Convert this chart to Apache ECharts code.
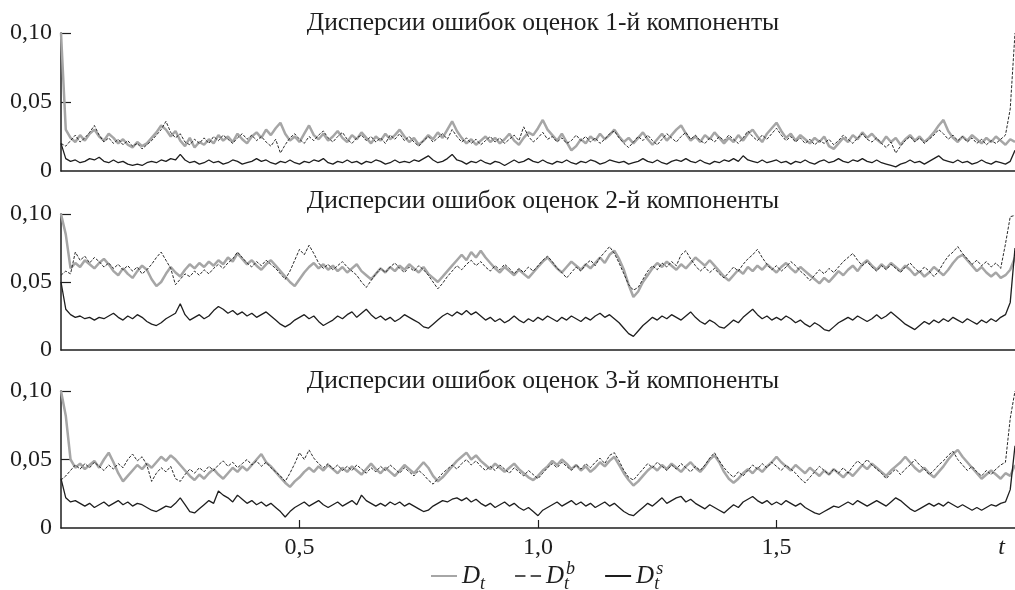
<!DOCTYPE html>
<html>
<head>
<meta charset="utf-8">
<script src="https://cdn.jsdelivr.net/npm/echarts@6/dist/echarts.min.js"></script>
<style>
  html, body { margin: 0; padding: 0; background: #fff; }
  #chart { width: 1015px; height: 590px; }
</style>
</head>
<body>
<div id="chart"></div>
<script>
// Sampling grid: t from 0 to 2 with step 0.01 (201 samples per series)
const SAMPLES = 201;
const tGrid = Array.from({ length: SAMPLES }, (_, i) => i / 100);

const panelTitles = [
  'Дисперсии ошибок оценок 1-й компоненты',
  'Дисперсии ошибок оценок 2-й компоненты',
  'Дисперсии ошибок оценок 3-й компоненты'
];
const seriesNames = ['D_t', 'D_t^b', 'D_t^s'];
const yTicks = [0, 0.05, 0.10];
const xTicks = [0.5, 1.0, 1.5];

// ---- Component 1 ----
const comp1Dt = [
0.100,0.030,0.024,0.021,0.026,0.022,0.027,0.030,0.025,0.022,
0.027,0.024,0.020,0.023,0.019,0.017,0.021,0.018,0.020,0.024,
0.028,0.033,0.030,0.025,0.029,0.022,0.018,0.024,0.017,0.021,
0.019,0.023,0.020,0.026,0.022,0.025,0.021,0.027,0.023,0.020,
0.025,0.028,0.024,0.030,0.026,0.031,0.035,0.027,0.022,0.025,
0.021,0.027,0.033,0.026,0.023,0.027,0.022,0.025,0.029,0.024,
0.021,0.026,0.023,0.028,0.024,0.020,0.025,0.022,0.027,0.023,
0.026,0.030,0.025,0.021,0.024,0.019,0.022,0.026,0.023,0.028,
0.024,0.030,0.036,0.029,0.024,0.020,0.023,0.019,0.022,0.025,
0.021,0.024,0.020,0.023,0.027,0.022,0.019,0.024,0.028,0.026,
0.031,0.037,0.030,0.026,0.022,0.027,0.021,0.015,0.018,0.023,
0.020,0.025,0.022,0.027,0.023,0.026,0.030,0.025,0.021,0.024,
0.020,0.024,0.028,0.023,0.019,0.023,0.027,0.022,0.026,0.030,
0.033,0.027,0.022,0.025,0.021,0.026,0.023,0.028,0.024,0.020,
0.024,0.021,0.026,0.022,0.027,0.030,0.025,0.021,0.027,0.031,
0.035,0.029,0.024,0.027,0.022,0.026,0.023,0.020,0.024,0.021,
0.025,0.018,0.016,0.020,0.024,0.021,0.026,0.023,0.028,0.024,
0.027,0.023,0.020,0.025,0.021,0.024,0.019,0.023,0.026,0.022,
0.025,0.021,0.024,0.028,0.033,0.037,0.029,0.024,0.021,0.025,
0.022,0.026,0.023,0.020,0.024,0.021,0.025,0.022,0.019,0.023,
0.021
];
const comp1Db = [
0.020,0.018,0.022,0.026,0.021,0.024,0.028,0.033,0.026,0.021,
0.024,0.020,0.023,0.019,0.022,0.018,0.020,0.016,0.019,0.022,
0.026,0.030,0.036,0.028,0.024,0.027,0.021,0.019,0.023,0.020,
0.024,0.020,0.025,0.022,0.026,0.023,0.020,0.024,0.027,0.023,
0.026,0.022,0.025,0.021,0.018,0.023,0.013,0.019,0.024,0.027,
0.023,0.020,0.025,0.022,0.026,0.029,0.024,0.021,0.025,0.028,
0.023,0.020,0.024,0.026,0.022,0.025,0.021,0.024,0.020,0.026,
0.023,0.027,0.022,0.025,0.021,0.018,0.022,0.025,0.021,0.024,
0.027,0.023,0.030,0.025,0.021,0.024,0.020,0.023,0.019,0.022,
0.025,0.021,0.024,0.020,0.023,0.026,0.022,0.032,0.025,0.021,
0.024,0.028,0.023,0.025,0.021,0.024,0.020,0.022,0.026,0.022,
0.025,0.021,0.024,0.020,0.023,0.027,0.029,0.024,0.020,0.017,
0.021,0.025,0.022,0.026,0.022,0.019,0.023,0.027,0.024,0.021,
0.025,0.028,0.023,0.026,0.022,0.020,0.024,0.021,0.025,0.022,
0.026,0.023,0.020,0.024,0.029,0.025,0.022,0.026,0.023,0.027,
0.031,0.026,0.022,0.025,0.021,0.024,0.020,0.023,0.019,0.022,
0.020,0.023,0.019,0.022,0.026,0.023,0.020,0.024,0.027,0.023,
0.021,0.024,0.020,0.017,0.021,0.013,0.018,0.022,0.025,0.021,
0.024,0.020,0.023,0.026,0.030,0.027,0.023,0.026,0.022,0.025,
0.021,0.024,0.020,0.023,0.019,0.022,0.020,0.023,0.026,0.045,
0.100
];
const comp1Ds = [
0.020,0.009,0.007,0.008,0.006,0.007,0.009,0.008,0.010,0.007,
0.006,0.008,0.006,0.007,0.005,0.004,0.005,0.004,0.006,0.007,
0.006,0.008,0.007,0.009,0.008,0.012,0.008,0.006,0.007,0.005,
0.006,0.008,0.006,0.007,0.005,0.006,0.008,0.007,0.005,0.006,
0.007,0.009,0.007,0.008,0.006,0.005,0.007,0.006,0.008,0.006,
0.005,0.007,0.006,0.008,0.007,0.009,0.006,0.005,0.007,0.006,
0.008,0.006,0.007,0.005,0.007,0.006,0.008,0.007,0.005,0.006,
0.008,0.006,0.007,0.006,0.008,0.007,0.009,0.011,0.008,0.006,
0.007,0.009,0.012,0.008,0.007,0.005,0.007,0.006,0.008,0.006,
0.005,0.007,0.006,0.004,0.006,0.008,0.006,0.007,0.009,0.007,
0.006,0.008,0.006,0.005,0.007,0.006,0.008,0.006,0.005,0.007,
0.006,0.008,0.007,0.005,0.006,0.008,0.007,0.006,0.007,0.005,
0.006,0.007,0.009,0.007,0.006,0.008,0.006,0.005,0.007,0.008,
0.007,0.009,0.007,0.006,0.008,0.006,0.005,0.007,0.006,0.008,
0.007,0.009,0.007,0.011,0.008,0.007,0.006,0.008,0.006,0.007,
0.008,0.006,0.007,0.005,0.007,0.006,0.008,0.006,0.005,0.007,
0.008,0.006,0.007,0.009,0.007,0.006,0.008,0.007,0.009,0.007,
0.006,0.008,0.006,0.005,0.004,0.003,0.005,0.006,0.008,0.006,
0.007,0.005,0.007,0.009,0.011,0.008,0.007,0.006,0.008,0.006,
0.007,0.005,0.006,0.008,0.006,0.005,0.007,0.006,0.005,0.007,
0.015
];

// ---- Component 2 ----
const comp2Dt = [
0.100,0.085,0.060,0.064,0.061,0.066,0.063,0.060,0.064,0.067,
0.063,0.058,0.055,0.060,0.056,0.053,0.058,0.062,0.059,0.052,
0.047,0.050,0.056,0.061,0.057,0.054,0.059,0.063,0.060,0.064,
0.061,0.065,0.062,0.066,0.063,0.068,0.065,0.071,0.067,0.063,
0.066,0.062,0.059,0.063,0.066,0.062,0.058,0.054,0.050,0.047,
0.052,0.057,0.061,0.064,0.060,0.063,0.059,0.062,0.058,0.061,
0.057,0.060,0.063,0.058,0.055,0.052,0.056,0.060,0.057,0.061,
0.058,0.062,0.059,0.063,0.060,0.057,0.061,0.056,0.053,0.050,
0.054,0.058,0.062,0.066,0.070,0.066,0.072,0.068,0.073,0.068,
0.064,0.060,0.057,0.061,0.058,0.055,0.059,0.056,0.053,0.057,
0.061,0.065,0.068,0.064,0.060,0.057,0.061,0.065,0.062,0.059,
0.063,0.060,0.064,0.068,0.064,0.070,0.073,0.067,0.059,0.048,
0.039,0.043,0.050,0.055,0.060,0.064,0.061,0.065,0.062,0.059,
0.063,0.060,0.064,0.068,0.065,0.062,0.066,0.062,0.058,0.054,
0.051,0.055,0.059,0.056,0.061,0.058,0.062,0.059,0.063,0.060,
0.057,0.061,0.064,0.060,0.057,0.061,0.058,0.055,0.052,0.049,
0.053,0.050,0.054,0.058,0.055,0.059,0.062,0.058,0.063,0.066,
0.062,0.059,0.063,0.060,0.064,0.061,0.058,0.062,0.059,0.055,
0.058,0.054,0.057,0.061,0.058,0.055,0.059,0.064,0.068,0.070,
0.066,0.062,0.058,0.061,0.057,0.054,0.057,0.053,0.055,0.059,
0.068
];
const comp2Db = [
0.055,0.058,0.056,0.072,0.066,0.069,0.064,0.068,0.065,0.061,
0.064,0.060,0.063,0.059,0.062,0.058,0.061,0.056,0.059,0.063,
0.068,0.072,0.066,0.060,0.048,0.052,0.056,0.054,0.058,0.055,
0.059,0.056,0.060,0.063,0.060,0.064,0.067,0.072,0.068,0.064,
0.061,0.065,0.062,0.066,0.063,0.060,0.056,0.052,0.058,0.066,
0.074,0.070,0.077,0.071,0.064,0.060,0.063,0.059,0.062,0.065,
0.061,0.058,0.055,0.050,0.046,0.051,0.056,0.060,0.057,0.061,
0.064,0.060,0.057,0.061,0.058,0.062,0.059,0.055,0.050,0.045,
0.049,0.054,0.058,0.062,0.059,0.063,0.066,0.062,0.065,0.061,
0.058,0.062,0.059,0.063,0.060,0.056,0.060,0.057,0.061,0.058,
0.062,0.066,0.069,0.065,0.060,0.057,0.053,0.057,0.061,0.058,
0.063,0.066,0.062,0.068,0.072,0.076,0.071,0.064,0.056,0.048,
0.044,0.046,0.052,0.058,0.062,0.059,0.064,0.061,0.065,0.062,
0.070,0.073,0.067,0.062,0.058,0.061,0.057,0.060,0.056,0.053,
0.057,0.061,0.058,0.063,0.067,0.070,0.074,0.068,0.063,0.059,
0.062,0.058,0.061,0.065,0.062,0.058,0.055,0.051,0.055,0.059,
0.056,0.060,0.057,0.061,0.065,0.068,0.071,0.066,0.062,0.065,
0.061,0.058,0.062,0.059,0.063,0.060,0.057,0.061,0.064,0.060,
0.057,0.061,0.058,0.054,0.058,0.064,0.069,0.072,0.076,0.071,
0.067,0.063,0.066,0.062,0.065,0.061,0.064,0.060,0.078,0.098,
0.099
];
const comp2Ds = [
0.050,0.030,0.026,0.024,0.025,0.023,0.024,0.022,0.024,0.023,
0.025,0.027,0.024,0.022,0.025,0.023,0.026,0.024,0.021,0.019,
0.018,0.020,0.023,0.025,0.027,0.034,0.026,0.022,0.024,0.026,
0.023,0.025,0.029,0.032,0.030,0.027,0.029,0.026,0.028,0.025,
0.027,0.024,0.026,0.028,0.025,0.022,0.019,0.017,0.019,0.022,
0.024,0.026,0.023,0.025,0.021,0.018,0.020,0.022,0.025,0.023,
0.026,0.028,0.024,0.027,0.030,0.026,0.023,0.025,0.022,0.024,
0.021,0.023,0.026,0.024,0.022,0.020,0.017,0.016,0.019,0.022,
0.025,0.027,0.025,0.028,0.026,0.029,0.026,0.028,0.025,0.022,
0.024,0.021,0.023,0.020,0.022,0.025,0.022,0.020,0.023,0.021,
0.024,0.022,0.025,0.023,0.021,0.024,0.022,0.025,0.023,0.021,
0.024,0.022,0.025,0.027,0.024,0.026,0.023,0.020,0.016,0.012,
0.010,0.014,0.018,0.021,0.024,0.022,0.025,0.023,0.026,0.024,
0.022,0.025,0.028,0.024,0.021,0.019,0.022,0.020,0.017,0.016,
0.019,0.022,0.020,0.024,0.027,0.030,0.026,0.023,0.025,0.022,
0.024,0.022,0.025,0.023,0.020,0.022,0.019,0.017,0.020,0.018,
0.015,0.014,0.017,0.020,0.022,0.024,0.022,0.025,0.023,0.021,
0.023,0.026,0.023,0.025,0.028,0.025,0.022,0.019,0.017,0.015,
0.018,0.021,0.019,0.022,0.020,0.023,0.021,0.024,0.022,0.020,
0.023,0.021,0.019,0.022,0.020,0.023,0.021,0.024,0.026,0.035,
0.075
];

// ---- Component 3 ----
const comp3Dt = [
0.100,0.082,0.050,0.044,0.047,0.043,0.046,0.049,0.044,0.050,
0.055,0.048,0.040,0.034,0.038,0.042,0.046,0.043,0.047,0.044,
0.048,0.052,0.049,0.053,0.050,0.046,0.042,0.038,0.035,0.039,
0.036,0.040,0.043,0.039,0.036,0.040,0.044,0.041,0.045,0.042,
0.046,0.050,0.054,0.048,0.045,0.041,0.037,0.033,0.030,0.034,
0.037,0.041,0.044,0.041,0.045,0.042,0.046,0.043,0.040,0.044,
0.041,0.045,0.042,0.039,0.043,0.047,0.043,0.040,0.044,0.041,
0.038,0.042,0.046,0.043,0.040,0.044,0.048,0.044,0.038,0.034,
0.037,0.041,0.045,0.049,0.052,0.055,0.050,0.053,0.049,0.046,
0.043,0.047,0.044,0.041,0.044,0.047,0.043,0.040,0.037,0.035,
0.038,0.042,0.045,0.049,0.046,0.050,0.047,0.043,0.046,0.042,
0.045,0.041,0.044,0.048,0.045,0.049,0.052,0.046,0.040,0.035,
0.031,0.034,0.038,0.042,0.045,0.042,0.046,0.043,0.047,0.044,
0.041,0.045,0.048,0.044,0.041,0.045,0.050,0.053,0.048,0.041,
0.036,0.033,0.036,0.040,0.043,0.040,0.044,0.041,0.045,0.048,
0.052,0.048,0.045,0.042,0.046,0.043,0.040,0.044,0.041,0.038,
0.042,0.039,0.043,0.040,0.037,0.041,0.038,0.042,0.046,0.043,
0.047,0.044,0.041,0.038,0.042,0.045,0.048,0.052,0.048,0.044,
0.041,0.044,0.040,0.037,0.041,0.045,0.050,0.054,0.057,0.052,
0.048,0.044,0.040,0.036,0.039,0.042,0.039,0.036,0.040,0.038,
0.046
];
const comp3Db = [
0.035,0.038,0.042,0.046,0.043,0.047,0.044,0.048,0.045,0.042,
0.046,0.043,0.047,0.044,0.050,0.054,0.049,0.052,0.046,0.034,
0.040,0.044,0.041,0.045,0.036,0.034,0.039,0.043,0.040,0.044,
0.041,0.045,0.042,0.046,0.049,0.045,0.048,0.044,0.047,0.050,
0.046,0.049,0.045,0.048,0.044,0.041,0.038,0.034,0.040,0.047,
0.055,0.050,0.057,0.051,0.047,0.044,0.047,0.043,0.046,0.042,
0.045,0.042,0.046,0.043,0.040,0.044,0.041,0.045,0.042,0.046,
0.043,0.040,0.044,0.041,0.038,0.042,0.039,0.035,0.032,0.036,
0.040,0.043,0.046,0.043,0.047,0.050,0.046,0.049,0.045,0.042,
0.045,0.042,0.046,0.043,0.040,0.044,0.041,0.038,0.042,0.039,
0.036,0.040,0.044,0.047,0.044,0.048,0.045,0.042,0.046,0.043,
0.047,0.044,0.048,0.051,0.047,0.053,0.055,0.049,0.042,0.037,
0.035,0.039,0.043,0.047,0.044,0.048,0.045,0.042,0.046,0.043,
0.047,0.044,0.041,0.045,0.042,0.046,0.051,0.055,0.049,0.044,
0.040,0.037,0.041,0.038,0.042,0.046,0.043,0.047,0.044,0.048,
0.045,0.042,0.046,0.043,0.040,0.036,0.033,0.037,0.041,0.045,
0.042,0.039,0.043,0.040,0.044,0.040,0.045,0.049,0.046,0.050,
0.046,0.043,0.040,0.036,0.040,0.043,0.039,0.043,0.046,0.050,
0.046,0.043,0.039,0.042,0.046,0.049,0.053,0.056,0.050,0.046,
0.042,0.045,0.041,0.038,0.042,0.039,0.043,0.046,0.048,0.080,
0.100
];
const comp3Ds = [
0.036,0.022,0.019,0.020,0.018,0.016,0.018,0.015,0.017,0.019,
0.016,0.018,0.020,0.017,0.019,0.016,0.018,0.017,0.015,0.013,
0.012,0.014,0.016,0.015,0.018,0.022,0.017,0.012,0.011,0.014,
0.017,0.020,0.018,0.027,0.024,0.022,0.019,0.024,0.021,0.018,
0.020,0.017,0.019,0.016,0.018,0.015,0.012,0.008,0.012,0.015,
0.017,0.019,0.016,0.018,0.020,0.017,0.015,0.017,0.019,0.016,
0.018,0.020,0.017,0.024,0.020,0.018,0.016,0.018,0.016,0.019,
0.017,0.019,0.016,0.018,0.016,0.014,0.012,0.013,0.016,0.018,
0.020,0.019,0.021,0.022,0.020,0.022,0.019,0.021,0.018,0.016,
0.018,0.015,0.017,0.019,0.016,0.018,0.015,0.013,0.015,0.012,
0.009,0.013,0.015,0.017,0.019,0.016,0.018,0.020,0.017,0.019,
0.016,0.018,0.015,0.017,0.019,0.016,0.018,0.015,0.012,0.010,
0.009,0.012,0.015,0.018,0.016,0.019,0.022,0.018,0.020,0.022,
0.023,0.019,0.021,0.018,0.016,0.014,0.017,0.015,0.013,0.011,
0.014,0.017,0.015,0.019,0.021,0.023,0.020,0.018,0.020,0.017,
0.019,0.017,0.020,0.018,0.016,0.018,0.015,0.013,0.011,0.010,
0.012,0.014,0.016,0.015,0.017,0.019,0.017,0.020,0.018,0.016,
0.018,0.020,0.018,0.016,0.019,0.022,0.020,0.017,0.014,0.012,
0.014,0.016,0.018,0.016,0.018,0.016,0.019,0.017,0.015,0.017,
0.015,0.013,0.015,0.013,0.015,0.017,0.016,0.018,0.019,0.028,
0.060
];

const panels = [
  [comp1Dt, comp1Db, comp1Ds],
  [comp2Dt, comp2Db, comp2Ds],
  [comp3Dt, comp3Db, comp3Ds]
];

// Plot area placement for the three stacked panels
const gridBoxes = [
  { top: 33, height: 138 },
  { top: 214, height: 136 },
  { top: 391, height: 137 }
];
const titleTops = [5, 183, 363];

const SERIF = '"Liberation Serif", "DejaVu Serif", serif';
const INK = '#1e1e1e';
const GREY = '#a6a6a6';

const styles = [
  { color: GREY, width: 2.5, type: 'solid', z: 2 },
  { color: '#2a2a2a', width: 1, type: [3, 1.5], z: 3 },
  { color: INK, width: 1.3, type: 'solid', z: 4 }
];

const fmtComma = (v, digits) => v.toFixed(digits).replace('.', ',');

const grid = gridBoxes.map(b => ({ left: 61, right: -2, top: b.top, height: b.height }));

const xAxis = gridBoxes.map((b, k) => ({
  type: 'value', gridIndex: k, min: 0, max: 2, interval: 0.5,
  axisLine: { show: true, lineStyle: { color: INK, width: 1.5 } },
  axisTick: { show: k === 2, inside: true, length: 8, lineStyle: { color: INK, width: 1.2 },
    customValues: xTicks },
  splitLine: { show: false },
  axisLabel: {
    show: k === 2,
    margin: 8,
    color: INK,
    fontFamily: SERIF,
    fontSize: 24,
    showMinLabel: true,
    showMaxLabel: true,
    customValues: [0.5, 1.0, 1.5, 2.0],
    alignMaxLabel: 'right',
    formatter: v => (v >= 2 ? '{t|t}' : fmtComma(v, 1)),
    rich: { t: { fontFamily: SERIF, fontStyle: 'italic', fontSize: 24, color: INK, padding: [0, 10, 0, 0] } }
  }
}));

const yAxis = gridBoxes.map((b, k) => ({
  type: 'value', gridIndex: k, min: 0, max: 0.1, interval: 0.05,
  axisLine: { show: true, lineStyle: { color: INK, width: 1.5 } },
  axisTick: { show: true, inside: true, length: 10, lineStyle: { color: INK, width: 1.2 },
    customValues: [0.05, 0.10] },
  splitLine: { show: false },
  axisLabel: {
    margin: 9, color: INK, fontFamily: SERIF, fontSize: 24,
    customValues: yTicks,
    formatter: v => (v === 0 ? '0' : fmtComma(v, 2))
  }
}));

const series = [];
panels.forEach((set, k) => {
  set.forEach((vals, j) => {
    const st = styles[j];
    series.push({
      name: seriesNames[j],
      type: 'line',
      xAxisIndex: k, yAxisIndex: k,
      data: tGrid.map((t, i) => [t, vals[i]]),
      showSymbol: false,
      symbol: 'none',
      animation: false,
      color: st.color,
      z: st.z,
      lineStyle: { color: st.color, width: st.width, type: st.type }
    });
  });
});

const scriptStyle = { fontFamily: SERIF, fontStyle: 'italic', fontSize: 18, color: INK };
const richLegend = {
  d: { fontFamily: SERIF, fontStyle: 'italic', fontSize: 25, color: INK, height: 34, lineHeight: 34, verticalAlign: 'middle' },
  sub: Object.assign({}, scriptStyle, { verticalAlign: 'bottom', width: 1, padding: [0, 0, 0, 0] }),
  sup: Object.assign({}, scriptStyle, { verticalAlign: 'top', padding: [1, 0, 0, 1] }),
  subw: Object.assign({}, scriptStyle, { verticalAlign: 'bottom', padding: [0, 0, 0, 0] })
};

const legendText = {
  'D_t': '{d|D}{subw|t}',
  'D_t^b': '{d|D}{sub|t}{sup|b}',
  'D_t^s': '{d|D}{sub|t}{sup|s}'
};

const option = {
  backgroundColor: '#ffffff',
  animation: false,
  title: panelTitles.map((txt, k) => ({
    text: txt,
    left: 538,
    textAlign: 'center',
    top: titleTops[k],
    textStyle: { fontFamily: SERIF, fontWeight: 'normal', fontSize: 25.5, color: INK }
  })),
  grid,
  xAxis,
  yAxis,
  legend: {
    left: 426,
    top: 554,
    itemWidth: 26,
    itemHeight: 2,
    itemGap: 30,
    data: [
      { name: 'D_t', icon: 'rect', itemStyle: { color: GREY } },
      { name: 'D_t^b', icon: 'path://M0,0H8V1H0Z M12,0H20V1H12Z', itemStyle: { color: INK } },
      { name: 'D_t^s', icon: 'rect', itemStyle: { color: INK } }
    ],
    formatter: n => legendText[n],
    textStyle: { rich: richLegend, padding: [0, 0, 0, 0] },
    selectedMode: false
  },
  series
};

const chart = echarts.init(document.getElementById('chart'), null, { renderer: 'canvas' });
chart.setOption(option);
</script>
</body>
</html>
